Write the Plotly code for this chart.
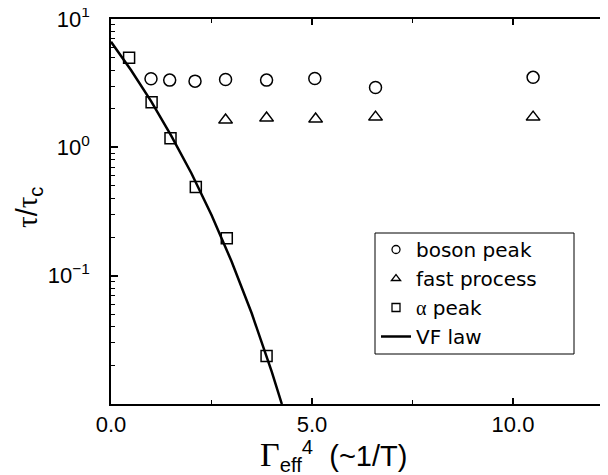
import plotly.graph_objects as go

# alpha peak (squares)
alpha_x = [0.45, 1.01, 1.48, 2.11, 2.88, 3.87]
alpha_y = [4.99, 2.25, 1.175, 0.49, 0.196, 0.0237]

# boson peak (circles)
boson_x = [0.995, 1.46, 2.09, 2.85, 3.87, 5.07, 6.58, 10.5]
boson_y = [3.42, 3.34, 3.28, 3.38, 3.34, 3.44, 2.93, 3.51]

# fast process (triangles)
fast_x = [2.85, 3.87, 5.09, 6.58, 10.5]
fast_y = [1.63, 1.69, 1.66, 1.72, 1.72]

# VF law curve
vf_x = [0.0, 0.5, 1.0, 1.5, 2.0, 2.5, 3.0, 3.5, 4.0, 4.25]
vf_y = [6.65, 3.99, 2.28, 1.23, 0.628, 0.297, 0.129, 0.0509, 0.0178, 0.0100]

y_tickvals = [0.1, 1, 10]
y_ticktext = ["10<sup>−1</sup>", "10<sup>0</sup>", "10<sup>1</sup>"]
x_tickvals = [0, 5, 10]
x_ticktext = ["0.0", "5.0", "10.0"]

FONT = "Liberation Sans, Arial, sans-serif"
LFONT = "DejaVu Sans, sans-serif"

fig = go.Figure()

mk_line = dict(color="black", width=1.5)
fig.add_trace(go.Scatter(x=boson_x, y=boson_y, mode="markers", showlegend=False,
                         marker=dict(symbol="circle-open", size=12, line=mk_line, color="black")))
fig.add_trace(go.Scatter(x=fast_x, y=fast_y, mode="markers", showlegend=False,
                         marker=dict(symbol="triangle-up-open", size=12, line=mk_line, color="black")))
fig.add_trace(go.Scatter(x=alpha_x, y=alpha_y, mode="markers", showlegend=False,
                         marker=dict(symbol="square-open", size=11, line=mk_line, color="black")))
fig.add_trace(go.Scatter(x=vf_x, y=vf_y, mode="lines", showlegend=False,
                         line=dict(color="black", width=2.5)))

# legend entries
lg_mk = dict(color="black", width=1.3)
fig.add_trace(go.Scatter(x=[None], y=[None], mode="markers", name="boson peak",
                         marker=dict(symbol="circle-open", size=8, line=lg_mk, color="black")))
fig.add_trace(go.Scatter(x=[None], y=[None], mode="markers", name="fast process",
                         marker=dict(symbol="triangle-up-open", size=8, line=lg_mk, color="black")))
fig.add_trace(go.Scatter(x=[None], y=[None], mode="markers",
                         name="<span style='font-family:Liberation Serif'>α</span> peak",
                         marker=dict(symbol="square-open", size=8, line=lg_mk, color="black")))
fig.add_trace(go.Scatter(x=[None], y=[None], mode="lines", name="VF law",
                         line=dict(color="black", width=2.5)))

# page has an 8px body margin; work in page pixels and convert
OFF = 8
PAGE_L, PAGE_T, PAGE_B, PAGE_R = 111, 19, 404, 608
W, H = 608 - OFF, 475 - OFF
L, T = PAGE_L - OFF, PAGE_T - OFF
B = H - (PAGE_B - OFF)
PW, PH = PAGE_R - PAGE_L, PAGE_B - PAGE_T


def px(x):
    return (x - PAGE_L) / PW


def py(y):
    return (PAGE_B - y) / PH


fig.update_layout(
    width=W, height=H,
    margin=dict(l=L, r=0, t=T, b=B, autoexpand=False),
    paper_bgcolor="white", plot_bgcolor="white",
    font=dict(family=FONT, size=20, color="black"),
    legend=dict(
        x=px(376), y=py(230),
        xanchor="left", yanchor="top",
        borderwidth=0, bgcolor="rgba(0,0,0,0)",
        font=dict(family=LFONT, size=20, color="black"),
        itemwidth=30, tracegroupgap=0,
    ),
    xaxis=dict(
        range=[0, PW / 40.2], automargin=False,
        tickmode="array", tickvals=x_tickvals, ticktext=x_ticktext,
        ticks="inside", ticklen=6, tickwidth=1.5, tickcolor="black",
        minor=dict(tickmode="array", tickvals=[2.5, 7.5], ticks="inside", ticklen=4, tickwidth=1.2, tickcolor="black"),
        showline=True, linecolor="black", linewidth=2, mirror="ticks",
        showgrid=False, zeroline=False,
        tickfont=dict(family=FONT, size=22, color="black"),
        ticklabelstandoff=0, ticklabeloverflow="allow",
    ),
    yaxis=dict(
        type="log", range=[-2, 1], automargin=False,
        tickmode="array", tickvals=y_tickvals, ticktext=y_ticktext,
        ticks="inside", ticklen=7, tickwidth=1.5, tickcolor="black",
        minor=dict(tickmode="array",
                   tickvals=[0.02, 0.03, 0.04, 0.05, 0.06, 0.07, 0.08, 0.09,
                             0.2, 0.3, 0.4, 0.5, 0.6, 0.7, 0.8, 0.9,
                             2, 3, 4, 5, 6, 7, 8, 9],
                   ticks="inside", ticklen=4, tickwidth=1.2, tickcolor="black"),
        showline=True, linecolor="black", linewidth=1.5, mirror=False,
        showgrid=False, zeroline=False,
        tickfont=dict(family=FONT, size=22, color="black"),
        ticklabelstandoff=15, ticklabeloverflow="allow",
    ),
    shapes=[dict(type="rect", xref="paper", yref="paper",
                 x0=px(375), x1=px(574), y0=py(354), y1=py(233),
                 line=dict(color="black", width=1), fillcolor="rgba(0,0,0,0)")],
    annotations=[
        dict(
            x=px(333), y=py(456), xref="paper", yref="paper",
            xanchor="center", yanchor="middle", showarrow=False,
            text="<span style='font-family:Liberation Serif;font-size:34px'>Γ</span><sub>eff</sub><sup>4</sup>&nbsp;&nbsp;(~1/T)",
            font=dict(family=FONT, size=29, color="black"),
        ),
        dict(
            x=px(29), y=py(207), xref="paper", yref="paper",
            xanchor="center", yanchor="middle", showarrow=False, textangle=-90,
            text="<span style='font-family:Liberation Serif'>τ</span>/<span style='font-family:Liberation Serif'>τ</span><sub>c</sub>",
            font=dict(family=FONT, size=29, color="black"),
        ),
    ],
)

fig.write_html("out.html")
